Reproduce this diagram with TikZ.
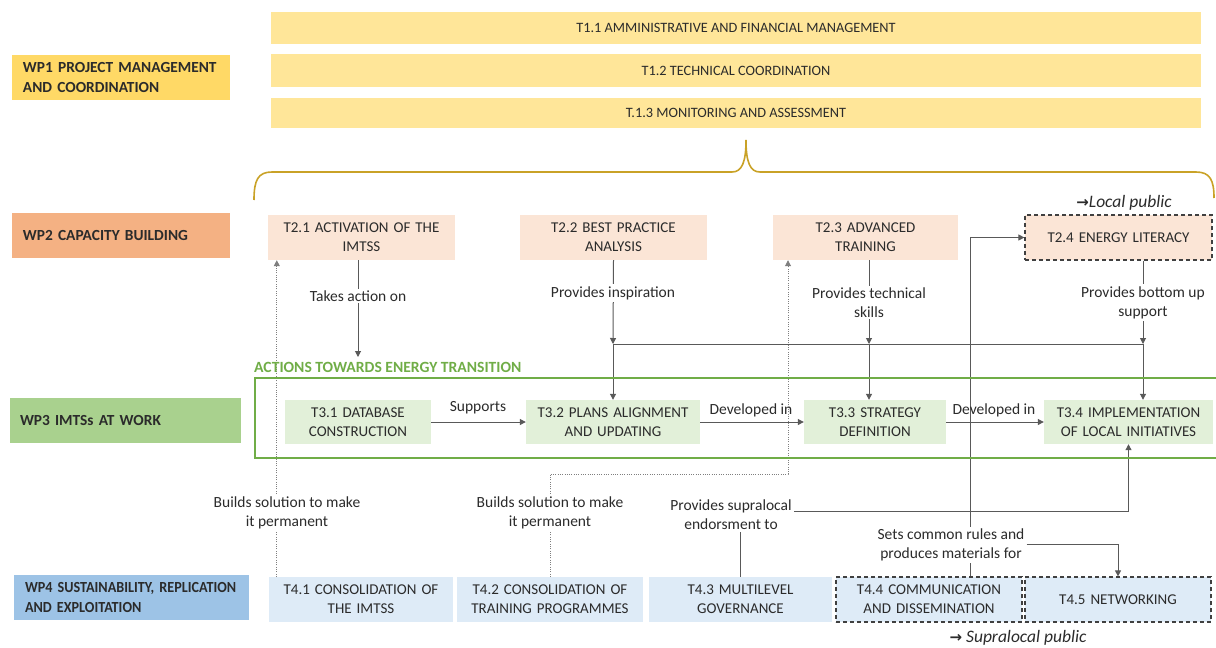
\documentclass[tikz,border=0pt]{standalone}
\usepackage{fontspec}
\setmainfont{Carlito}
\newfontfamily\arrowfont{DejaVu Sans}
\newfontfamily\condfont[FakeStretch=0.92]{Carlito}
\usetikzlibrary{arrows.meta,calc,backgrounds}
\definecolor{txt}{HTML}{2B2B2B}
\definecolor{t1c}{HTML}{FFE699}
\definecolor{wp1c}{HTML}{FFD966}
\definecolor{t2c}{HTML}{FBE5D6}
\definecolor{wp2c}{HTML}{F4B183}
\definecolor{t3c}{HTML}{E2F0D9}
\definecolor{wp3c}{HTML}{A9D18E}
\definecolor{t4c}{HTML}{DEEBF7}
\definecolor{wp4c}{HTML}{9DC3E6}
\definecolor{greenc}{HTML}{70AD47}
\definecolor{bracec}{HTML}{C9A227}
\definecolor{cline}{HTML}{595959}
\definecolor{dline}{HTML}{7F7F7F}
\definecolor{dashc}{HTML}{404040}
\begin{document}
\begin{tikzpicture}[x=1pt,y=-1pt,
  font=\fontsize{15}{19}\selectfont, text=txt,
  conn/.style={draw=cline, line width=1pt},
  arr/.style={conn, -{Triangle[length=6pt,width=6pt]}},
  dotc/.style={draw=dline, line width=0.9pt, dash pattern=on 1pt off 1.3pt, -{Triangle[length=6pt,width=6pt]}},
  tbox/.style={inner sep=0pt, align=center, minimum height=45pt},
  wp/.style={inner xsep=11pt, inner ysep=0pt, align=left, minimum height=45pt, font=\fontsize{15.4}{20}\selectfont\bfseries},
  lab/.style={fill=white, inner sep=2pt, align=center, font=\fontsize{15.5}{19}\selectfont},
  plab/.style={inner sep=1pt, font=\fontsize{15.5}{19}\selectfont},
  pub/.style={inner sep=0pt, font=\fontsize{17.5}{20}\selectfont\itshape},
  dbox/.style={draw=dashc, line width=1.2pt, dash pattern=on 4pt off 3pt}
]
\useasboundingbox (0,0) rectangle (1216,648);

% WP1
\node[wp, fill=wp1c, minimum width=218pt, text width=196pt] (wp1) at (121,77.5) {WP1 PROJECT MANAGEMENT\\AND COORDINATION};
\node[tbox, fill=t1c, minimum width=930pt, minimum height=32pt, font=\fontsize{14.3}{19}\selectfont] (t11) at (736,28) {T1.1 AMMINISTRATIVE AND FINANCIAL MANAGEMENT};
\node[tbox, fill=t1c, minimum width=930pt, minimum height=33pt, font=\fontsize{14.3}{19}\selectfont] (t12) at (736,70.5) {T1.2 TECHNICAL COORDINATION};
\node[tbox, fill=t1c, minimum width=930pt, minimum height=30pt, font=\fontsize{14.3}{19}\selectfont] (t13) at (736,112.5) {T.1.3 MONITORING AND ASSESSMENT};

% brace
\draw[bracec, line width=1.6pt] (254,200) .. controls (254,180) and (258,172) .. (272,172) -- (732,172)
  .. controls (742,172) and (746,162) .. (746,140)
  .. controls (746,162) and (750,172) .. (760,172) -- (1196,172)
  .. controls (1210,172) and (1214,180) .. (1214,198);

% WP2
\node[wp, fill=wp2c, minimum width=218pt, text width=196pt] (wp2) at (121,235.5) {WP2 CAPACITY BUILDING};
\node[tbox, fill=t2c, minimum width=187pt, text width=180pt] (t21) at (361.5,237.5) {T2.1 ACTIVATION OF THE\\IMTSS};
\node[tbox, fill=t2c, minimum width=187pt, text width=180pt] (t22) at (613.5,237.5) {T2.2 BEST PRACTICE\\ANALYSIS};
\node[tbox, fill=t2c, minimum width=185pt, text width=178pt] (t23) at (865.5,237.5) {T2.3 ADVANCED\\TRAINING};
\node[tbox, fill=t2c, dbox, minimum width=187pt, text width=180pt] (t24) at (1118.5,237.5) {T2.4 ENERGY LITERACY};
\node[pub] (locpub) at (1124,203) {{\arrowfont\upshape\bfseries\fontsize{15}{16}\selectfont →}Local public};

% WP3
\node[wp, fill=wp3c, minimum width=231pt, text width=211pt, inner xsep=10pt] (wp3) at (125.5,420.5) {WP3 IMTSs AT WORK};
\node[font=\fontsize{15.6}{19}\selectfont\bfseries, text=greenc, inner sep=0pt, anchor=west] (gtxt) at (254,367) {ACTIONS TOWARDS ENERGY TRANSITION};
\draw[greenc, line width=2pt] (1218,378) -- (255,378) -- (255,458) -- (1218,458);
\node[tbox, fill=t3c, minimum width=146pt, text width=140pt, minimum height=44pt] (t31) at (358,422) {T3.1 DATABASE\\CONSTRUCTION};
\node[tbox, fill=t3c, minimum width=174pt, text width=168pt, minimum height=44pt] (t32) at (613,422) {T3.2 PLANS ALIGNMENT\\AND UPDATING};
\node[tbox, fill=t3c, minimum width=142pt, text width=136pt, minimum height=44pt] (t33) at (875,422) {T3.3 STRATEGY\\DEFINITION};
\node[tbox, fill=t3c, minimum width=169pt, text width=163pt, minimum height=44pt] (t34) at (1128.5,422) {T3.4 IMPLEMENTATION\\OF LOCAL INITIATIVES};

% WP4
\node[wp, fill=wp4c, minimum width=235pt, text width=213pt, font=\fontsize{15.4}{20}\selectfont\condfont\bfseries] (wp4) at (131.5,597) {WP4 SUSTAINABILITY, REPLICATION\\AND EXPLOITATION};
\node[tbox, fill=t4c, minimum width=184pt, text width=178pt] (t41) at (361,599.5) {T4.1 CONSOLIDATION OF\\THE IMTSS};
\node[tbox, fill=t4c, minimum width=186pt, text width=180pt] (t42) at (550,599.5) {T4.2 CONSOLIDATION OF\\TRAINING PROGRAMMES};
\node[tbox, fill=t4c, minimum width=183pt, text width=177pt] (t43) at (740.5,599.5) {T4.3 MULTILEVEL\\GOVERNANCE};
\node[tbox, fill=t4c, dbox, minimum width=186pt, text width=180pt] (t44) at (929,599.5) {T4.4 COMMUNICATION\\AND DISSEMINATION};
\node[tbox, fill=t4c, dbox, minimum width=186pt, text width=180pt] (t45) at (1118,599.5) {T4.5 NETWORKING};
\node[pub] (suppub) at (1018,638) {{\arrowfont\upshape\bfseries\fontsize{15}{16}\selectfont →} Supralocal public};

% labels
\node[lab] (la1) at (358,296) {Takes action on};
\node[lab] (la2) at (613,293) {Provides inspiration};
\node[lab] (la3) at (869,302.5) {Provides technical\\skills};
\node[lab] (la4) at (1143,302.5) {Provides bottom up\\support};
\node[plab] (ls1) at (478,408) {Supports};
\node[plab] (ls2) at (751,410) {Developed in};
\node[plab] (ls3) at (994,410) {Developed in};
\node[lab] (lb1) at (287,512.5) {Builds solution to make\\it permanent};
\node[lab] (lb2) at (550,512.5) {Builds solution to make\\it permanent};
\node[lab] (l43) at (731,514.5) {Provides supralocal\\endorsment to};
\node[lab] (l44) at (951,545) {Sets common rules and\\produces materials for};

% helper coordinates
\coordinate (acta) at (358,357);
\coordinate (b2) at (613,344);
\coordinate (b3) at (869,344);
\coordinate (b4) at (1143,344);
\coordinate (d2a) at (550,474);
\coordinate (d2b) at (788,474);
\coordinate (c44) at (970,577);

\begin{scope}[on background layer]
\draw[arr] ([xshift=-3.5pt]t21.south) -- (acta);
\draw[arr] (t22.south) -- (b2);
\draw[arr] (b3 |- t23.south) -- (b3);
\draw[arr] (b4 |- t24.south) -- (b4);
\draw[conn] (b2) -- (b4);
\draw[arr] (b2) -- (t32.north);
\draw[arr] (b3) -- (b3 |- t33.north);
\draw[arr] (b4) -- (b4 |- t34.north);
\draw[arr] (t31.east) -- (t32.west);
\draw[arr] (t32.east) -- (t33.west);
\draw[arr] (t33.east) -- (t34.west);
\draw[dotc] ([xshift=8pt]t41.north west) -- ([xshift=8pt]t41.north west |- t21.south);
\draw[dotc] (t42.north) -- (d2a) -- (d2b) -- (d2b |- t23.south);
\draw[conn] (t43.north) -- (t43.north |- l43.south);
\draw[arr] ([yshift=3.5pt]l43.east) -| (t34.south);
\draw[arr] (c44) |- (t24.west);
\draw[arr] ([yshift=1pt]l44.east) -| (t45.north);
\end{scope}
\end{tikzpicture}
\end{document}
